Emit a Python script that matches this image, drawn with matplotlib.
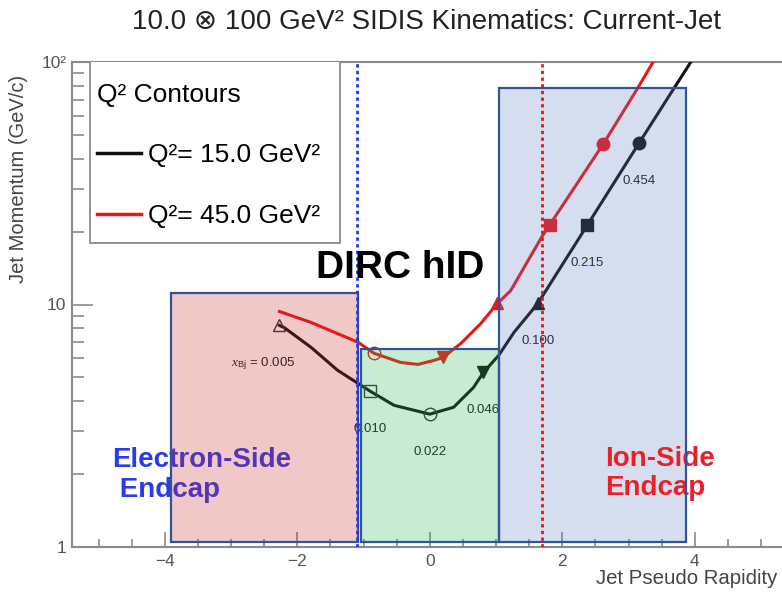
import matplotlib
matplotlib.use('Agg')
import matplotlib.pyplot as plt
from matplotlib.patches import Rectangle
from matplotlib.lines import Line2D
from matplotlib.ticker import MultipleLocator, FixedLocator, FixedFormatter, LogLocator, NullFormatter

plt.rcParams['font.family'] = ['Liberation Sans', 'DejaVu Sans']
plt.rcParams['mathtext.fontset'] = 'custom'
plt.rcParams['mathtext.rm'] = 'Liberation Sans'
plt.rcParams['mathtext.it'] = 'Liberation Serif:italic'

# Q^2 = 15 GeV^2 contour (jet pseudo rapidity, jet momentum in GeV/c)
eta_q15 = [-2.27, -2.20, -1.79, -1.39, -1.11, -0.90, -0.54, 0.00, 0.36, 0.66,
           0.81, 1.04, 1.27, 1.63, 2.38, 3.16, 3.63, 3.94]
p_q15 = [8.20, 8.04, 6.65, 5.35, 4.78, 4.39, 3.84, 3.53, 3.77, 4.55,
         5.25, 6.17, 7.67, 10.1, 21.3, 46.4, 73.8, 100.0]

# Q^2 = 45 GeV^2 contour
eta_q45 = [-2.27, -1.79, -1.08, -0.84, -0.44, -0.18, 0.06, 0.20, 0.47, 0.77,
           1.02, 1.22, 1.70, 1.81, 2.62, 3.13, 3.37]
p_q45 = [9.36, 8.43, 6.98, 6.29, 5.77, 5.66, 5.88, 6.05, 6.91, 8.35,
         10.1, 11.4, 19.2, 21.3, 46.0, 77.4, 100.0]

# fixed x_Bj points along each contour
xbj_labels = ['0.005', '0.010', '0.022', '0.046', '0.100', '0.215', '0.454']
mk_eta_q15 = [-2.27, -0.90, 0.00, 0.81, 1.63, 2.38, 3.16]
mk_p_q15 = [8.20, 4.39, 3.53, 5.25, 10.1, 21.3, 46.4]
mk_eta_q45 = [-0.84, 0.20, 1.02, 1.81, 2.62]
mk_p_q45 = [6.29, 6.05, 10.1, 21.3, 46.0]
mk_style = [('^', False), ('s', False), ('o', False), ('v', True),
            ('^', True), ('s', True), ('o', True)]

# detector regions: (eta_min, eta_max, p_min, p_max)
regions = {
    'electron': (-3.90, -1.08, 1.053, 11.2),
    'barrel': (-1.04, 1.05, 1.053, 6.53),
    'ion': (1.05, 3.86, 1.053, 78.0),
}
dirc_lo, dirc_hi = -1.10, 1.70

black = '#111111'
red = '#ee1515'
gray = '#8a8a8a'

fig = plt.figure(figsize=(7.82, 5.93), dpi=100)
ax = fig.add_axes([72 / 782, 46 / 593, 715.6 / 782, 485 / 593])
ax.set_yscale('log')
ax.set_xlim(-5.4, 5.4)
ax.set_ylim(1, 100)

ax.plot(eta_q15, p_q15, color=black, lw=2.2, zorder=3)
ax.plot(eta_q45, p_q45, color=red, lw=2.2, zorder=3)

for i, (e, p) in enumerate(zip(mk_eta_q15, mk_p_q15)):
    m, filled = mk_style[i]
    ax.plot(e, p, marker=m, ms=9, color=black, mec='#333333' if not filled else black,
            mfc=black if filled else 'none', mew=1.0, zorder=4)
    lab = xbj_labels[i]
    dx = 0
    if i == 0:
        lab = r'$x_{\mathrm{Bj}}$ = ' + lab
        dx = -16
    ax.annotate(lab, (e, p), xytext=(dx, -38), textcoords='offset pixels',
                ha='center', va='center', fontsize=9.5, color='#1a1a1a', zorder=3)

for j, (e, p) in enumerate(zip(mk_eta_q45, mk_p_q45)):
    m, filled = mk_style[j + 2]
    ax.plot(e, p, marker=m, ms=9, color=red, mec=red,
            mfc=red if filled else 'none', mew=1.0, zorder=4)

# region boxes: translucent fill over the curves, outline on top
fills = {'electron': (0.78, 0.15, 0.15), 'barrel': (0.14, 0.70, 0.33), 'ion': (0.36, 0.48, 0.76)}
for key, (x0, x1, y0, y1) in regions.items():
    ax.add_patch(Rectangle((x0, y0), x1 - x0, y1 - y0, facecolor=fills[key],
                           alpha=0.25, edgecolor='none', zorder=5))
    ax.add_patch(Rectangle((x0, y0), x1 - x0, y1 - y0, facecolor='none',
                           edgecolor='#2f5597', lw=1.6, zorder=7))

ax.axvline(dirc_lo, color='#2233ff', lw=2, ls=(0, (1.2, 1.2)), zorder=8)
ax.axvline(dirc_hi, color='#e01818', lw=2, ls=(0, (1.2, 1.2)), zorder=8)

ax.text(-4.79, 1.98, 'Electron-Side\n Endcap', color='#2b3bea', fontsize=20,
        fontweight='bold', ha='left', va='center', linespacing=1.2, zorder=4)
ax.text(2.65, 2.01, 'Ion-Side\nEndcap', color='#e8202a', fontsize=20,
        fontweight='bold', ha='left', va='center', linespacing=1.15, zorder=6)
ax.text(-1.72, 14.1, 'DIRC hID', color='black', fontsize=28,
        fontweight='bold', ha='left', va='center', zorder=9)

# axes frame and ticks
for s in ['left', 'bottom', 'top']:
    ax.spines[s].set_color(gray)
    ax.spines[s].set_linewidth(1.5)
ax.spines['right'].set_visible(False)

ax.xaxis.set_major_locator(FixedLocator([-4, -2, 0, 2, 4]))
ax.xaxis.set_minor_locator(MultipleLocator(0.5))
ax.yaxis.set_major_locator(FixedLocator([1, 10, 100]))
ax.yaxis.set_major_formatter(FixedFormatter(['1', '10', '10²']))
ax.yaxis.set_minor_locator(LogLocator(base=10, subs=range(2, 10)))
ax.yaxis.set_minor_formatter(NullFormatter())
ax.tick_params(axis='x', which='major', direction='in', length=11, width=1.2,
               color=gray, labelsize=12.5, labelcolor='#555555', pad=5, top=False)
ax.tick_params(axis='x', which='minor', direction='in', length=6, width=1.2,
               color=gray, top=False)
ax.tick_params(axis='y', which='major', direction='in', length=15, width=1.2,
               color=gray, labelsize=12.5, labelcolor='#555555', pad=4, right=False)
ax.tick_params(axis='y', which='minor', direction='in', length=8.5, width=1.2,
               color=gray, right=False)

# legend: white box drawn separately, entries placed inside it
ax.add_patch(Rectangle((90 / 782, 1 - 243 / 593), 250 / 782, 182 / 593,
                       transform=fig.transFigure, facecolor='white', edgecolor=gray,
                       lw=1.3, zorder=9.5))
handles = [Line2D([], [], color=black, lw=2.5), Line2D([], [], color=red, lw=2.5)]
leg = ax.legend(handles, ['Q²= 15.0 GeV²', 'Q²= 45.0 GeV²'], title='Q² Contours',
                loc='upper left', bbox_to_anchor=(97 / 782, 1 - 83 / 593),
                bbox_transform=fig.transFigure, fontsize=19, title_fontsize=19,
                alignment='left', frameon=False, borderpad=0, labelspacing=1.38,
                handlelength=1.65, handletextpad=0.3, borderaxespad=0)
leg.set_zorder(10)

fig.text(427 / 782, 1 - 22 / 593, '10.0 ⊗ 100 GeV² SIDIS Kinematics: Current-Jet',
         ha='center', va='center', fontsize=20, color='#222222')
fig.text(777 / 782, 1 - 578 / 593, 'Jet Pseudo Rapidity', ha='right', va='center',
         fontsize=14.7, color='#444444')
fig.text(19 / 782, 1 - 179 / 593, 'Jet Momentum (GeV/c)', ha='center', va='center',
         rotation=90, fontsize=14.5, color='#444444')

fig.savefig('out.png', dpi=100)
